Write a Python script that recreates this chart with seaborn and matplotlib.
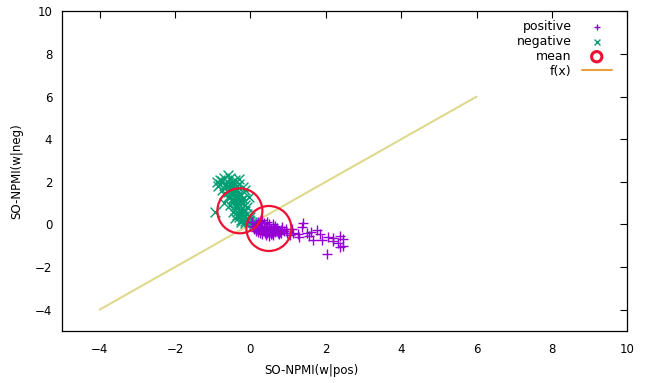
"""
SO-NPMI scatter: positive vs negative words, with class means and f(x) = x.
"""

import numpy as np
import pandas as pd
import seaborn as sns
import matplotlib
matplotlib.use('Agg')
import matplotlib.pyplot as plt

# ----------------------------------------------- DATA ----------------------------------------------- #

pos_x = [0.05, 0.15, 0.2, 0.25, 0.3, 0.35, 0.4, 0.45, 0.5, 0.55, 0.6, 0.65, 0.7, 0.75, 0.8, 0.85,
         0.1, 0.2, 0.3, 0.4, 0.5, 0.6, 0.35, 0.45, 0.25, 0.55, 0.65, 0.15, 0.3, 0.2, 0.5, 0.7,
         0.9, 0.95, 0.96, 1.05, 1.12, 1.25, 1.39, 1.36, 1.49, 1.6, 1.76, 1.84, 1.65, 1.9, 2.05,
         2.2, 2.37, 2.45, 2.32, 2.45, 2.37, 2.2, 2.02, 1.3, 1.55, 1.1,
         0.12, 0.22, 0.32, 0.42, 0.52, 0.62, 0.72, 0.38, 0.48, 0.58, 0.28, 0.18, 0.68, 0.78,
         0.4, 0.5, 0.6, 0.35, 0.45, 0.55, 0.25, 0.65, 0.08, 0.82]
pos_y = [0.1, 0.0, -0.1, 0.15, -0.2, 0.05, -0.3, -0.1, -0.4, -0.2, 0.0, -0.35, -0.15, -0.45, -0.25, -0.1,
         -0.2, -0.35, -0.45, -0.5, -0.55, -0.5, -0.15, 0.1, -0.25, -0.3, -0.05, -0.3, 0.2, 0.1, 0.0, -0.3,
         -0.3, -0.2, -0.38, -0.5, -0.38, -0.45, 0.05, -0.1, -0.42, -0.35, -0.28, -0.45, -0.75, -0.75, -0.61,
         -0.62, -0.52, -0.7, -0.85, -0.99, -1.05, -0.8, -1.41, -0.6, -0.55, -0.2,
         -0.1, -0.22, -0.32, -0.25, -0.3, -0.22, -0.4, -0.38, -0.2, -0.42, -0.05, -0.12, -0.28, -0.35,
         -0.15, -0.12, -0.3, -0.28, -0.4, -0.45, -0.4, -0.18, -0.05, -0.4]

neg_x = [-0.9, -0.8, -0.7, -0.6, -0.5, -0.85, -0.65, -0.4, -0.3, -0.55, -0.75, -0.45, -0.35, -0.25,
         -0.6, -0.5, -0.4, -0.3, -0.2, -0.7, -0.55, -0.35, -0.25, -0.15, -0.45, -0.3, -0.2, -0.1,
         -0.95, -0.4, -0.25, -0.15, -0.05, 0.05, 0.1, -0.1, 0.0, -0.3, -0.15, -0.05, -0.75, -0.5,
         -0.2, -0.3, -0.1, 0.15, -0.35, -0.45,
         -0.65, -0.55, -0.45, -0.35, -0.6, -0.5, -0.4, -0.3, -0.45, -0.35, -0.25, -0.4, -0.3, -0.2,
         -0.35, -0.25, -0.15, -0.3, -0.2, -0.1, -0.25, -0.15, -0.05, 0.0, -0.55, -0.45, -0.7, -0.8]
neg_y = [2.0, 2.1, 2.2, 2.3, 2.0, 1.8, 1.9, 2.1, 1.9, 1.7, 1.6, 1.5, 1.6, 1.4,
         1.3, 1.2, 1.0, 1.1, 1.2, 1.0, 0.9, 0.8, 0.7, 0.9, 0.6, 0.5, 0.4, 0.5,
         0.6, 0.3, 0.2, 0.15, 0.2, 0.1, 0.05, 0.3, 0.35, 1.3, 1.6, 1.3, 2.05, 1.55,
         1.75, 2.15, 0.8, 0.0, 0.45, 1.85,
         1.75, 1.85, 1.75, 1.8, 1.5, 1.4, 1.55, 1.45, 1.2, 1.25, 1.15, 0.85, 0.95, 1.0,
         0.6, 0.55, 0.65, 0.35, 0.25, 0.25, 0.1, 0.05, 0.1, 0.15, 2.2, 1.1, 1.45, 1.9]

mean_x = [-0.28, 0.49]
mean_y = [0.64, -0.19]

fx = [-4, 6]

# ----------------------------------------------- PLOT ----------------------------------------------- #

sns.set_style('white')
plt.rcParams['font.family'] = ['DejaVu Sans']
plt.rcParams['text.color'] = 'black'
plt.rcParams['axes.labelcolor'] = 'black'
plt.rcParams['xtick.color'] = 'black'
plt.rcParams['ytick.color'] = 'black'

df = pd.concat([
    pd.DataFrame({'x': pos_x, 'y': pos_y, 'cls': 'positive'}),
    pd.DataFrame({'x': neg_x, 'y': neg_y, 'cls': 'negative'}),
])

fig, ax = plt.subplots(figsize=(6.46, 3.83), dpi=100)
fig.subplots_adjust(left=0.096, right=0.971, top=0.970, bottom=0.136)

sns.scatterplot(data=df[df.cls == 'positive'], x='x', y='y', marker='+', s=60, color='#9400d3',
                linewidth=1.0, label='positive', ax=ax, zorder=3)
sns.scatterplot(data=df[df.cls == 'negative'], x='x', y='y', marker='x', s=50, color='#009e73',
                linewidth=1.0, label='negative', ax=ax, zorder=2)
ax.scatter(mean_x, mean_y, s=1050, facecolors='none', edgecolors='#ee1133', linewidths=1.6,
           label='mean', zorder=4)
sns.lineplot(x=fx, y=fx, color='#d6d070', linewidth=1.5, alpha=0.8, label='f(x)', ax=ax, zorder=1)

ax.set_xlim(-5, 10)
ax.set_ylim(-5, 10)
ax.set_xticks(np.arange(-4, 11, 2))
ax.set_yticks(np.arange(-4, 11, 2))
ax.tick_params(direction='in', length=5, width=0.8, top=True, right=True, labelsize=8.5)
ax.tick_params(axis='x', pad=9)
ax.tick_params(axis='y', pad=7)
for s in ax.spines.values():
    s.set_linewidth(0.9)
    s.set_color('black')
ax.set_xlabel('SO-NPMI(w|pos)', fontsize=8.5)
ax.xaxis.set_label_coords(0.441, -0.105)
ax.set_ylabel('SO-NPMI(w|neg)', fontsize=8.5)
ax.yaxis.set_label_coords(-0.068, 0.5)

handles, labels = ax.get_legend_handles_labels()
leg = ax.legend(handles, labels, loc='upper right', frameon=False, markerfirst=False, fontsize=9,
                handlelength=2.4, borderaxespad=0.3, labelspacing=0.15, markerscale=0.6,
                bbox_to_anchor=(0.988, 1.0))
leg.legend_handles[2].set_sizes([55])
leg.legend_handles[2].set_linewidth(2.2)
leg.legend_handles[3].set_color('#e8a040')
leg.legend_handles[3].set_alpha(1)

plt.savefig('out.png', dpi=100)
